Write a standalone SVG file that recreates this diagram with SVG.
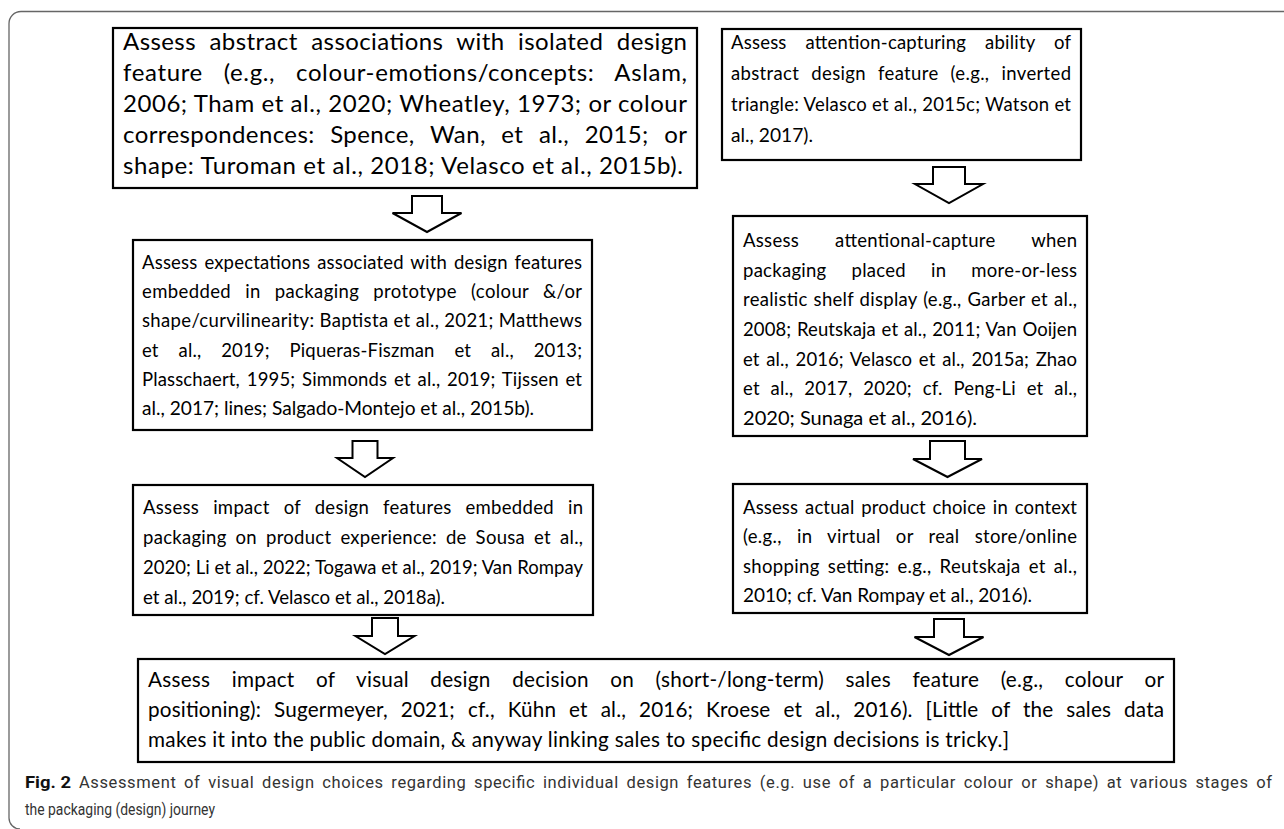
<svg xmlns="http://www.w3.org/2000/svg" width="1284" height="829" viewBox="0 0 1284 829">
<style>
.box{fill:#fff;stroke:#000;stroke-width:2.2}
.arr{fill:#fff;stroke:#000;stroke-width:2;stroke-linejoin:miter}
.t{font-family:Lato,"Liberation Sans",sans-serif;font-size:18.5px;fill:#000}
.tl{font-family:Lato,"Liberation Sans",sans-serif;font-size:24px;fill:#000}
.tb{font-family:Lato,"Liberation Sans",sans-serif;font-size:20.7px;fill:#000}
.cap{font-family:"Liberation Sans Narrow",Roboto,"Liberation Sans",sans-serif;font-size:16.5px;fill:#333}
.capb{font-family:"Liberation Sans Narrow",Roboto,"Liberation Sans",sans-serif;font-size:16.5px;font-weight:bold;fill:#111}
.frame{fill:none;stroke:#666;stroke-width:1.3}
</style>
<rect width="1284" height="829" fill="#fff"/>
<path class="frame" d="M1284 11.5 H21 A12 12 0 0 0 9 23.5 V818 A11 11 0 0 0 20 829"/>

<g id="node-abstract">
<rect class="box" x="113" y="28" width="584" height="160"/>
<text class="tl" x="123" y="50" textLength="564" lengthAdjust="spacing" word-spacing="7">Assess abstract associations with isolated design</text>
<text class="tl" x="123" y="81" textLength="564" lengthAdjust="spacing" word-spacing="14">feature (e.g., colour-emotions/concepts: Aslam,</text>
<text class="tl" x="123" y="112" textLength="564" lengthAdjust="spacing">2006; Tham et al., 2020; Wheatley, 1973; or colour</text>
<text class="tl" x="123" y="143" textLength="564" lengthAdjust="spacing" word-spacing="9">correspondences: Spence, Wan, et al., 2015; or</text>
<text class="tl" x="123" y="174" textLength="560" lengthAdjust="spacing">shape: Turoman et al., 2018; Velasco et al., 2015b).</text>
</g>

<g id="node-attention">
<rect class="box" x="722" y="29" width="359" height="131"/>
<text class="t" x="731" y="49" textLength="340" lengthAdjust="spacing" word-spacing="14">Assess attention-capturing ability of</text>
<text class="t" x="731" y="80" textLength="340" lengthAdjust="spacing" word-spacing="7">abstract design feature (e.g., inverted</text>
<text class="t" x="731" y="111" textLength="340" lengthAdjust="spacing">triangle: Velasco et al., 2015c; Watson et</text>
<text class="t" x="731" y="142" textLength="82" lengthAdjust="spacingAndGlyphs">al., 2017).</text>
</g>

<g id="node-expectations">
<rect class="box" x="133" y="240" width="459" height="190"/>
<text class="t" x="142" y="269" textLength="440" lengthAdjust="spacing" word-spacing="2">Assess expectations associated with design features</text>
<text class="t" x="142" y="298" textLength="440" lengthAdjust="spacing" word-spacing="9">embedded in packaging prototype (colour &amp;/or</text>
<text class="t" x="142" y="327" textLength="440" lengthAdjust="spacing">shape/curvilinearity: Baptista et al., 2021; Matthews</text>
<text class="t" x="142" y="357" textLength="440" lengthAdjust="spacing" word-spacing="15">et al., 2019; Piqueras-Fiszman et al., 2013;</text>
<text class="t" x="142" y="386" textLength="440" lengthAdjust="spacing" word-spacing="2">Plasschaert, 1995; Simmonds et al., 2019; Tijssen et</text>
<text class="t" x="142" y="415" textLength="392" lengthAdjust="spacingAndGlyphs">al., 2017; lines; Salgado-Montejo et al., 2015b).</text>
</g>

<g id="node-shelf">
<rect class="box" x="733" y="216" width="354" height="220"/>
<text class="t" x="743" y="247" textLength="334" lengthAdjust="spacing" word-spacing="31">Assess attentional-capture when</text>
<text class="t" x="743" y="277" textLength="334" lengthAdjust="spacing" word-spacing="20">packaging placed in more-or-less</text>
<text class="t" x="743" y="306" textLength="334" lengthAdjust="spacing" word-spacing="1">realistic shelf display (e.g., Garber et al.,</text>
<text class="t" x="743" y="336" textLength="334" lengthAdjust="spacing" word-spacing="1">2008; Reutskaja et al., 2011; Van Ooijen</text>
<text class="t" x="743" y="366" textLength="334" lengthAdjust="spacing" word-spacing="2">et al., 2016; Velasco et al., 2015a; Zhao</text>
<text class="t" x="743" y="395" textLength="334" lengthAdjust="spacing" word-spacing="6">et al., 2017, 2020; cf. Peng-Li et al.,</text>
<text class="t" x="743" y="425" textLength="234" lengthAdjust="spacingAndGlyphs">2020; Sunaga et al., 2016).</text>
</g>

<g id="node-experience">
<rect class="box" x="133" y="485" width="460" height="130"/>
<text class="t" x="143" y="514" textLength="440" lengthAdjust="spacing" word-spacing="9">Assess impact of design features embedded in</text>
<text class="t" x="143" y="544" textLength="440" lengthAdjust="spacing" word-spacing="4">packaging on product experience: de Sousa et al.,</text>
<text class="t" x="143" y="574" textLength="440" lengthAdjust="spacing">2020; Li et al., 2022; Togawa et al., 2019; Van Rompay</text>
<text class="t" x="143" y="604" textLength="302" lengthAdjust="spacingAndGlyphs">et al., 2019; cf. Velasco et al., 2018a).</text>
</g>

<g id="node-choice">
<rect class="box" x="733" y="484" width="354" height="129"/>
<text class="t" x="743" y="514" textLength="334" lengthAdjust="spacing" word-spacing="2">Assess actual product choice in context</text>
<text class="t" x="743" y="543" textLength="334" lengthAdjust="spacing" word-spacing="10">(e.g., in virtual or real store/online</text>
<text class="t" x="743" y="573" textLength="334" lengthAdjust="spacing" word-spacing="3">shopping setting: e.g., Reutskaja et al.,</text>
<text class="t" x="743" y="602" textLength="289" lengthAdjust="spacingAndGlyphs">2010; cf. Van Rompay et al., 2016).</text>
</g>

<g id="node-sales">
<rect class="box" x="138" y="659" width="1036" height="103"/>
<text class="tb" x="148" y="687" textLength="1016" lengthAdjust="spacing" word-spacing="16">Assess impact of visual design decision on (short-/long-term) sales feature (e.g., colour or</text>
<text class="tb" x="148" y="717" textLength="1016" lengthAdjust="spacing" word-spacing="7.5">positioning): Sugermeyer, 2021; cf., Kühn et al., 2016; Kroese et al., 2016). [Little of the sales data</text>
<text class="tb" x="148" y="747" textLength="861" lengthAdjust="spacing">makes it into the public domain, &amp; anyway linking sales to specific design decisions is tricky.]</text>
</g>

<g id="connectors">
<path class="arr" d="M412 196 H442 V213 H461.5 L427 232 L392.5 213 H412 Z"/>
<path class="arr" d="M352.5 441 H377.5 V458 H393 L365 477 L337 458 H352.5 Z"/>
<path class="arr" d="M372 618 H398 V636 H414.5 L385 654 L355.5 636 H372 Z"/>
<path class="arr" d="M933 167 H965 V184 H983 L949 203 L915 184 H933 Z"/>
<path class="arr" d="M930 441 H965 V459 H982 L947.5 477 L913 459 H930 Z"/>
<path class="arr" d="M934 619 H964 V637 H983.5 L949 655 L914.5 637 H934 Z"/>
</g>

<g id="caption">
<text class="capb" x="25" y="788" textLength="46" lengthAdjust="spacingAndGlyphs">Fig. 2</text>
<text class="cap" x="79" y="788" textLength="1193" lengthAdjust="spacing" word-spacing="3">Assessment of visual design choices regarding specific individual design features (e.g. use of a particular colour or shape) at various stages of</text>
<text class="cap" x="25" y="815" textLength="190" lengthAdjust="spacingAndGlyphs">the packaging (design) journey</text>
</g>
</svg>
